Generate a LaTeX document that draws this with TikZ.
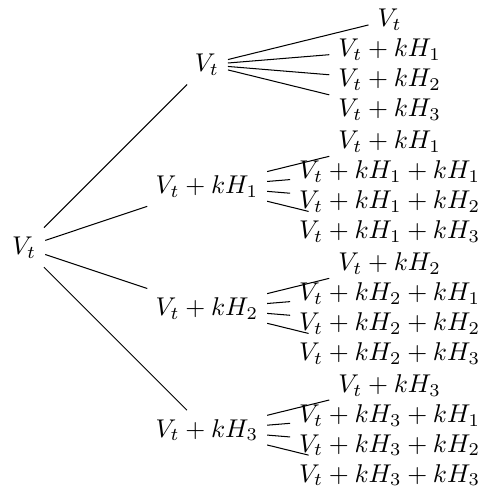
\documentclass[tikz,border=0pt]{standalone}
\usepackage{amsmath,amssymb}
\usepackage{tikz}
\usetikzlibrary{positioning}
\tikzset{
  st/.style={inner sep=0.3333em},
  br/.style={line width=0.4pt}
}
\begin{document}
\begin{tikzpicture}[every node/.style={st}]
  % ---- root and first level ----
  \node (vt) at (0,0) {$V_t$};
  \node (c0) at (2.5,2.5) {$V_t$};
  \node (c1) at (2.5,0.835) {$V_t+kH_1$};
  \node (c2) at (2.5,-0.835) {$V_t+kH_2$};
  \node (c3) at (2.5,-2.5) {$V_t+kH_3$};
  \draw[br] (vt)--(c0);
  \draw[br] (vt)--(c1);
  \draw[br] (vt)--(c2);
  \draw[br] (vt)--(c3);
  % ---- second level under V_t ----
  \node (g00) at (5,3.115) {$V_t$};
  \node (g01) at (5,2.705) {$V_t+kH_1$};
  \node (g02) at (5,2.295) {$V_t+kH_2$};
  \node (g03) at (5,1.885) {$V_t+kH_3$};
  % ---- second level under V_t+kH_1 ----
  \node (g10) at (5,1.45) {$V_t+kH_1$};
  \node (g11) at (5,1.04) {$V_t+kH_1+kH_1$};
  \node (g12) at (5,0.63) {$V_t+kH_1+kH_2$};
  \node (g13) at (5,0.22) {$V_t+kH_1+kH_3$};
  % ---- second level under V_t+kH_2 ----
  \node (g20) at (5,-0.22) {$V_t+kH_2$};
  \node (g21) at (5,-0.63) {$V_t+kH_2+kH_1$};
  \node (g22) at (5,-1.04) {$V_t+kH_2+kH_2$};
  \node (g23) at (5,-1.45) {$V_t+kH_2+kH_3$};
  % ---- second level under V_t+kH_3 ----
  \node (g30) at (5,-1.885) {$V_t+kH_3$};
  \node (g31) at (5,-2.295) {$V_t+kH_3+kH_1$};
  \node (g32) at (5,-2.705) {$V_t+kH_3+kH_2$};
  \node (g33) at (5,-3.115) {$V_t+kH_3+kH_3$};
  % branches
  \draw[br] (c0)--(g00); \draw[br] (c0)--(g01); \draw[br] (c0)--(g02); \draw[br] (c0)--(g03);
  \draw[br] (c1)--(g10); \draw[br] (c1)--(g11); \draw[br] (c1)--(g12); \draw[br] (c1)--(g13);
  \draw[br] (c2)--(g20); \draw[br] (c2)--(g21); \draw[br] (c2)--(g22); \draw[br] (c2)--(g23);
  \draw[br] (c3)--(g30); \draw[br] (c3)--(g31); \draw[br] (c3)--(g32); \draw[br] (c3)--(g33);
  % frame as in the reference
  \pgfresetboundingbox
  \useasboundingbox ([xshift=-1.2pt]vt.west |- g00.north) rectangle ([xshift=-1.2pt]g33.east |- g33.south);
\end{tikzpicture}
\end{document}
